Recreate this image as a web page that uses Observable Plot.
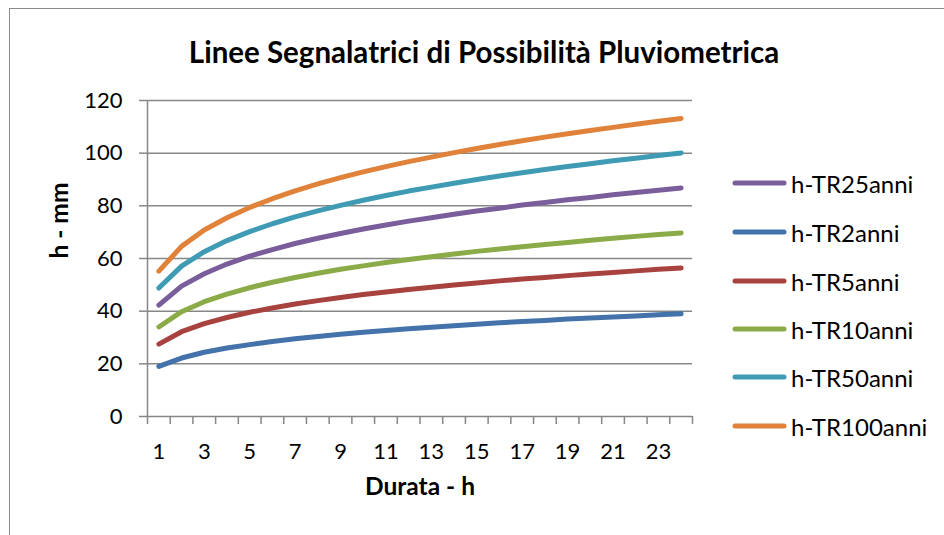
<!DOCTYPE html>
<html>
<head>
<meta charset="utf-8">
<script src="https://cdn.jsdelivr.net/npm/d3@7"></script>
<script src="https://cdn.jsdelivr.net/npm/@observablehq/plot@0.6"></script>
<style>
  html, body { margin: 0; padding: 0; background: #fff; }
  #wrap { position: relative; width: 944px; height: 535px; overflow: hidden; font-family: Lato, "Open Sans", sans-serif; color: #000; }
  #frame { position: absolute; left: 9px; top: 8px; width: 1000px; height: 600px; border-left: 1.5px solid #8a8a8a; border-top: 1.5px solid #8a8a8a; }
  #title { position: absolute; left: 0; top: 0; width: 968px; height: 80px; text-align: center; font-weight: bold; font-size: 29.5px; line-height: 30px; padding-top: 37px; box-sizing: border-box; }
  #chart { position: absolute; left: 0; top: 80px; }
  #legend { position: absolute; left: 732px; top: 0; }
  .item { position: absolute; left: 0; display: flex; align-items: center; white-space: nowrap; font-size: 24px; height: 30px; }
  .item svg { margin-right: 4px; }
</style>
</head>
<body>
<div id="wrap">
  <div id="frame"></div>
  <div id="title">Linee Segnalatrici di Possibilità Pluviometrica</div>
  <div id="chart"></div>
  <div id="legend"></div>
</div>
<script>
// Categories (durata, ore)
const durata = [1,2,3,4,5,6,7,8,9,10,11,12,13,14,15,16,17,18,19,20,21,22,23,24];
const xTickLabels = [1,3,5,7,9,11,13,15,17,19,21,23];
const yTicks = [0,20,40,60,80,100,120];

// Series values (h, mm)
const h_TR25  = [42.3,49.5,54.2,57.9,60.9,63.4,65.7,67.7,69.5,71.2,72.7,74.2,75.5,76.8,78.0,79.1,80.3,81.3,82.3,83.2,84.2,85.1,85.9,86.8];
const h_TR2   = [19.0,22.2,24.4,26.0,27.3,28.5,29.5,30.4,31.2,32.0,32.7,33.3,33.9,34.5,35.0,35.6,36.1,36.5,37.0,37.4,37.8,38.2,38.6,39.0];
const h_TR5   = [27.5,32.2,35.3,37.6,39.6,41.2,42.7,44.0,45.2,46.3,47.3,48.2,49.1,49.9,50.7,51.5,52.2,52.8,53.5,54.1,54.7,55.3,55.9,56.4];
const h_TR10  = [34.0,39.8,43.6,46.5,48.9,51.0,52.8,54.4,55.9,57.2,58.5,59.6,60.7,61.7,62.7,63.6,64.5,65.3,66.1,66.9,67.7,68.4,69.1,69.7];
const h_TR50  = [48.8,57.1,62.6,66.8,70.2,73.2,75.8,78.1,80.2,82.1,83.9,85.6,87.1,88.6,90.0,91.3,92.6,93.8,94.9,96.0,97.1,98.1,99.1,100.1];
const h_TR100 = [55.2,64.6,70.8,75.5,79.4,82.7,85.7,88.3,90.7,92.9,94.9,96.8,98.5,100.2,101.8,103.3,104.7,106.1,107.4,108.6,109.8,111.0,112.1,113.2];

const seriesNames = ["h-TR25anni","h-TR2anni","h-TR5anni","h-TR10anni","h-TR50anni","h-TR100anni"];
const seriesValues = [h_TR25, h_TR2, h_TR5, h_TR10, h_TR50, h_TR100];
const seriesColors = ["#7A5E9B","#4472AA","#A8423F","#8BAA48","#3E9BB3","#E0823A"];

const tidy = seriesNames.flatMap((name, s) =>
  durata.map((d, i) => ({serie: name, d, h: seriesValues[s][i]})));

// category boundaries for the Excel-style tick marks
const boundaries = [0, ...durata].map(d => d + 0.5);

const gray = "#878787";

const chart = Plot.plot({
  width: 944,
  height: 455,
  marginLeft: 147,
  marginRight: 252,
  marginTop: 20,
  marginBottom: 119,
  x: {type: "linear", domain: [0.5, 24.5]},
  y: {domain: [0, 120]},
  color: {domain: seriesNames, range: seriesColors},
  style: {fontFamily: "Lato, 'Open Sans', sans-serif", fontSize: "22px", color: "#000", background: "transparent", overflow: "visible"},
  marks: [
    Plot.gridY(yTicks, {stroke: gray, strokeOpacity: 1, strokeWidth: 1.5}),
    Plot.ruleX([0.5], {stroke: gray, strokeWidth: 1.5}),
    Plot.axisY({ticks: yTicks, tickSize: 8, tickPadding: 17, stroke: gray, strokeWidth: 1.5, fill: "#000", label: null, fontSize: 22}),
    Plot.axisX({ticks: boundaries, tickSize: 8, stroke: gray, strokeWidth: 1.5, fill: "none", tickFormat: () => "", label: null}),
    Plot.axisX({ticks: xTickLabels, tickSize: 0, tickPadding: 27, fill: "#000", label: null, fontSize: 22}),
    Plot.line(tidy, {x: "d", y: "h", z: "serie", stroke: "serie", strokeWidth: 5, strokeLinecap: "round", strokeLinejoin: "round"}),
    Plot.text(["Durata - h"], {frameAnchor: "bottom", dy: 78, fontWeight: "bold", fontSize: 24.5, fill: "#000"}),
    Plot.text(["h - mm"], {frameAnchor: "left", dx: -87, rotate: -90, fontWeight: "bold", fontSize: 24.5, fill: "#000"})
  ]
});
document.getElementById("chart").appendChild(chart);

// Legend
const legendTops = [183, 232, 281, 329, 377, 426];
const legend = document.getElementById("legend");
seriesNames.forEach((name, i) => {
  const item = document.createElement("div");
  item.className = "item";
  item.style.top = (legendTops[i] - 15) + "px";
  item.innerHTML = `<svg width="55" height="10"><line x1="3" y1="5" x2="52" y2="5" stroke="${seriesColors[i]}" stroke-width="5" stroke-linecap="round"/></svg><span>${name}</span>`;
  legend.appendChild(item);
});
</script>
</body>
</html>
